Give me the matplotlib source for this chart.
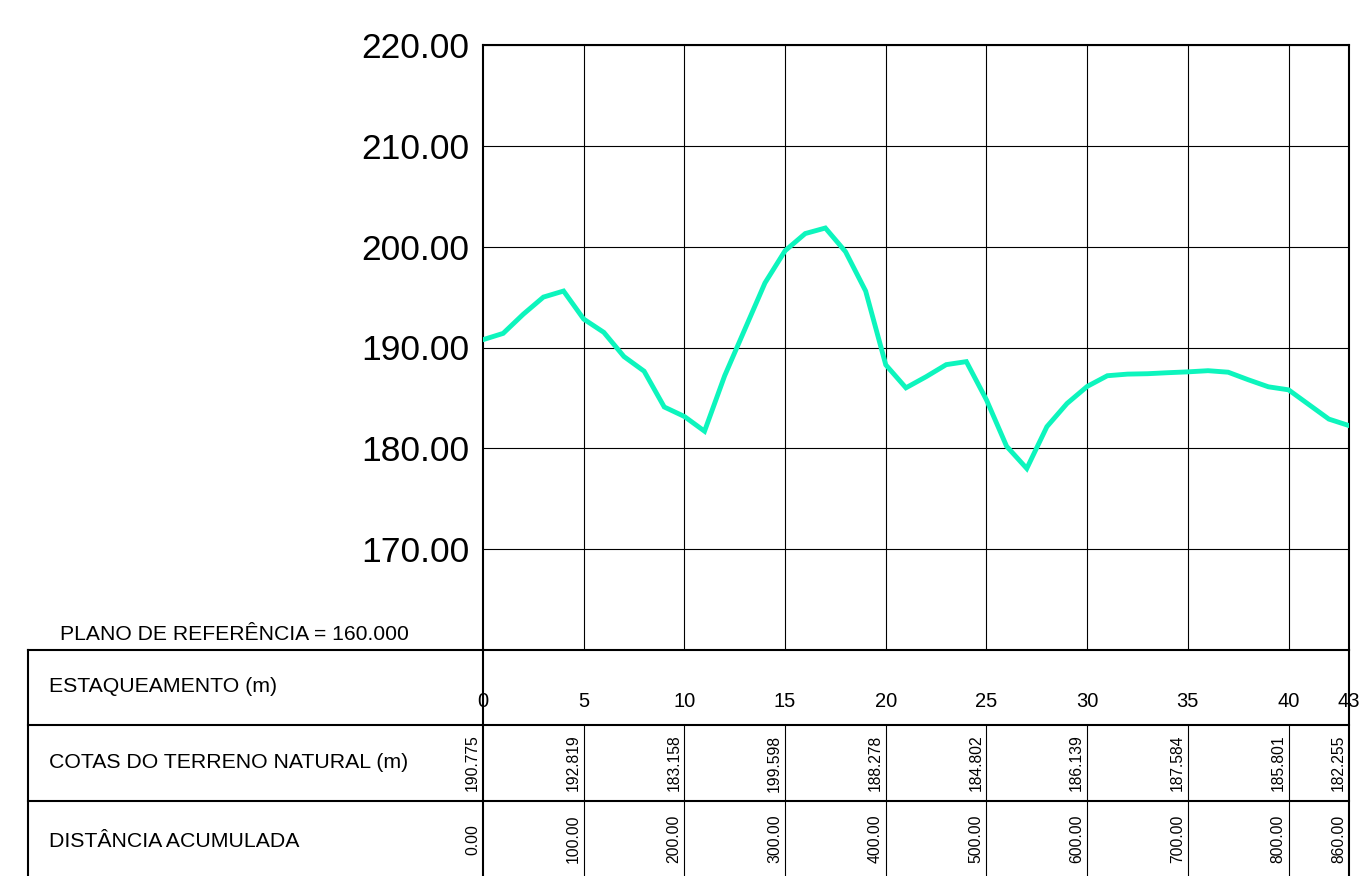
import numpy as np
import matplotlib
matplotlib.use("Agg")
import matplotlib.pyplot as plt
from matplotlib.transforms import offset_copy

plt.rcParams['font.family'] = ['Liberation Sans', 'DejaVu Sans']

# estacas (20 m cada) e cotas do terreno natural
estacas = np.arange(0, 44)
cotas = [190.775, 191.4, 193.3, 195.0, 195.6, 192.819, 191.5, 189.1, 187.65, 184.1,
         183.158, 181.7, 187.2, 191.8, 196.4, 199.598, 201.3, 201.85, 199.5, 195.6,
         188.278, 186.0, 187.1, 188.3, 188.6, 184.802, 180.2, 178.0, 182.15, 184.45,
         186.139, 187.2, 187.36, 187.4, 187.5, 187.584, 187.7, 187.55, 186.8, 186.1,
         185.801, 184.35, 182.9, 182.255]
estacas_tabela = [0, 5, 10, 15, 20, 25, 30, 35, 40, 43]
dist_estaca = 20.0
plano_ref = 160.0
cota_max = 220.0
linhas_y = [170, 180, 190, 200, 210, 220]
rotulos_linhas = ["ESTAQUEAMENTO (m)", "COTAS DO TERRENO NATURAL (m)", "DISTÂNCIA ACUMULADA"]

W, H = 1359, 876
fig = plt.figure(figsize=(W / 100, H / 100), dpi=100)

# area do perfil (pixels)
px0, px1 = 483, 1349
py_top, py_bot = 45, 650
ax = fig.add_axes([px0 / W, (H - py_bot) / H, (px1 - px0) / W, (py_bot - py_top) / H])
ax.set_xlim(0, 43)
ax.set_ylim(plano_ref, cota_max)
ax.plot(estacas, cotas, color='#0DF5BD', lw=3.5, solid_joinstyle='miter', zorder=3)

ax.set_xticks(estacas_tabela[1:-1])
ax.set_yticks(linhas_y)
ax.set_yticklabels(["%.2f" % v for v in linhas_y], fontsize=25.5)
ax.set_xticklabels([])
ax.tick_params(length=0, pad=10)
ax.grid(True, color='black', lw=0.8)
for s in ['top', 'left', 'right']:
    ax.spines[s].set_linewidth(1.5)
ax.spines['bottom'].set_visible(False)

# tabela
tx0 = 28
xmin_t = -43 * (px0 - tx0) / (px1 - px0)
axt = fig.add_axes([tx0 / W, 0, (px1 - tx0) / W, (H - py_bot) / H])
axt.set_xlim(xmin_t, 43)
axt.set_ylim(0, 3)
axt.axis('off')

for yy in [1, 2, 3]:
    axt.plot([xmin_t, 43], [yy, yy], color='black', lw=1.5, clip_on=False)
axt.plot([xmin_t, xmin_t], [0, 3], color='black', lw=1.5, clip_on=False)
for e in estacas_tabela:
    if e in (0, 43):
        axt.plot([e, e], [0, 3], color='black', lw=1.5, clip_on=False)
    else:
        axt.plot([e, e], [0, 2], color='black', lw=0.8, clip_on=False)

for i, txt in enumerate(rotulos_linhas):
    yc = [2.51, 1.51, 0.46][i]
    axt.text(xmin_t + 21 / 20.14, yc, txt, fontsize=15.3, ha='left', va='center')

fig.text(60 / W, 1 - 635 / H, "PLANO DE REFERÊNCIA = %.3f" % plano_ref, fontsize=15.2,
         ha='left', va='center')

trans_rot = offset_copy(axt.transData, fig=fig, x=-3, y=0, units='dots')
for e in estacas_tabela:
    axt.text(e, 2.31, str(e), fontsize=14.5, ha='center', va='center')
    axt.text(e, 1.5, "%.3f" % cotas[e], fontsize=11.3, rotation=90, ha='right',
             va='center', transform=trans_rot)
    axt.text(e, 0.49, "%.2f" % (e * dist_estaca), fontsize=11.3, rotation=90,
             ha='right', va='center', transform=trans_rot)

fig.savefig("out.png", dpi=100)
